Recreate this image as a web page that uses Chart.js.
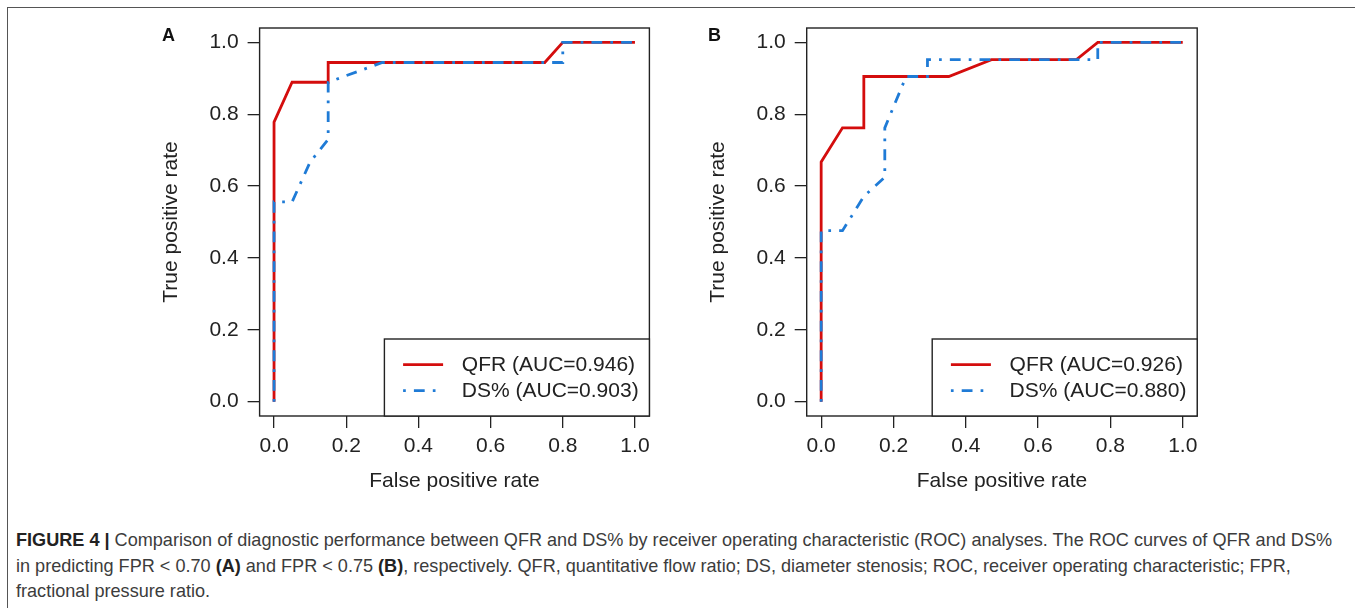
<!DOCTYPE html>
<html>
<head>
<meta charset="utf-8">
<script src="https://cdn.jsdelivr.net/npm/chart.js@4.4.1/dist/chart.umd.min.js"></script>
<style>
html,body{margin:0;padding:0;background:#fff;width:1355px;height:608px;overflow:hidden;font-family:"Liberation Sans",Arial,sans-serif;}
#frame{position:absolute;left:7px;top:7px;width:1400px;height:700px;border-left:1.5px solid #555;border-top:1.5px solid #555;}
#wa{position:absolute;left:0;top:0;}
#wb{position:absolute;left:680px;top:0;}
.lab{position:absolute;font-weight:bold;font-size:18px;color:#111;line-height:20px;}
#cap{position:absolute;left:16px;top:528px;font-size:18.1px;line-height:25.5px;color:#3c3c3c;white-space:nowrap;}
#cap b{color:#222;}
</style>
</head>
<body>
<div id="frame"></div>
<canvas id="wa" width="680" height="500"></canvas>
<canvas id="wb" width="675" height="500"></canvas>
<div class="lab" style="left:162px;top:25px;">A</div>
<div class="lab" style="left:708px;top:25px;">B</div>
<div id="cap"><b>FIGURE 4 |</b> Comparison of diagnostic performance between QFR and DS% by receiver operating characteristic (ROC) analyses. The ROC curves of QFR and DS%<br>in predicting FPR &lt; 0.70 <b>(A)</b> and FPR &lt; 0.75 <b>(B)</b>, respectively. QFR, quantitative flow ratio; DS, diameter stenosis; ROC, receiver operating characteristic; FPR,<br>fractional pressure ratio.</div>
<script>
// ---- data ----
const tickValues = [0, 0.2, 0.4, 0.6, 0.8, 1.0];
const seriesNames = ['QFR', 'DS%'];
const aucA = ['0.946', '0.903'];
const aucB = ['0.926', '0.880'];

// Panel A (FPR < 0.70)
const fprA_QFR = [0, 0, 0.05, 0.15, 0.15, 0.75, 0.80, 1.0];
const tprA_QFR = [0, 0.778, 0.889, 0.889, 0.944, 0.944, 1.0, 1.0];
const fprA_DS  = [0, 0, 0.05, 0.10, 0.15, 0.15, 0.30, 0.80, 0.80, 1.0];
const tprA_DS  = [0, 0.556, 0.556, 0.667, 0.73, 0.889, 0.944, 0.944, 1.0, 1.0];

// Panel B (FPR < 0.75)
const fprB_QFR = [0, 0, 0.059, 0.118, 0.118, 0.353, 0.471, 0.706, 0.765, 1.0];
const tprB_QFR = [0, 0.667, 0.762, 0.762, 0.905, 0.905, 0.952, 0.952, 1.0, 1.0];
const fprB_DS  = [0, 0, 0.059, 0.118, 0.176, 0.176, 0.235, 0.294, 0.294, 0.765, 0.765, 1.0];
const tprB_DS  = [0, 0.476, 0.476, 0.571, 0.625, 0.762, 0.905, 0.905, 0.952, 0.952, 1.0, 1.0];

// ---- styling ----
const RED = '#d40d0d';
const BLUE = '#1f7bd6';
const INK = '#222';
const FONT = '"Liberation Sans", Arial, Helvetica, sans-serif';
const DOTDASH = [2.7, 8.1, 10.8, 8.1];

const pts = (xs, ys) => xs.map((x, i) => ({x: x, y: ys[i]}));

const boxPlugin = {
  id: 'boxLegend',
  afterDraw(chart) {
    const {ctx, chartArea: {left, top, right, bottom}} = chart;
    ctx.save();
    ctx.strokeStyle = INK; ctx.lineWidth = 1.4; ctx.setLineDash([]);
    ctx.strokeRect(left, top, right - left, bottom - top);
    const lw = 265, lh = 77;
    const lx = right - lw, ly = bottom - lh;
    ctx.fillStyle = '#fff';
    ctx.fillRect(lx, ly, lw, lh);
    ctx.strokeRect(lx, ly, lw, lh);
    chart.data.datasets.forEach((ds, i) => {
      const y = ly + 25.7 + i * 26;
      ctx.beginPath();
      ctx.setLineDash(ds.borderDash || []);
      ctx.lineCap = 'butt';
      ctx.strokeStyle = ds.borderColor; ctx.lineWidth = ds.borderWidth;
      ctx.moveTo(lx + 18.7, y); ctx.lineTo(lx + 58.7, y); ctx.stroke();
      ctx.setLineDash([]);
      ctx.fillStyle = INK;
      ctx.font = '21px ' + FONT;
      ctx.textBaseline = 'middle'; ctx.textAlign = 'left';
      ctx.fillText(ds.label, lx + 77.4, y + 1);
    });
    ctx.restore();
  }
};

function makeChart(id, qfr, ds, auc, geo) {
  return new Chart(document.getElementById(id), {
    type: 'line',
    data: {
      datasets: [
        {label: seriesNames[0] + ' (AUC=' + auc[0] + ')', data: qfr, borderColor: RED, borderWidth: 2.8,
         pointRadius: 0, tension: 0, fill: false, order: 1},
        {label: seriesNames[1] + ' (AUC=' + auc[1] + ')', data: ds, borderColor: BLUE, borderWidth: 2.8,
         borderDash: DOTDASH, borderCapStyle: 'butt', pointRadius: 0, tension: 0, fill: false, order: 0}
      ]
    },
    options: {
      responsive: false, animation: false, devicePixelRatio: 1,
      layout: {padding: {top: 28, right: geo.right, left: 0, bottom: 0}},
      plugins: {legend: {display: false}, tooltip: {enabled: false}},
      scales: {
        x: {
          type: 'linear', min: -0.04, max: 1.04,
          afterBuildTicks: s => { s.ticks = tickValues.map(v => ({value: v})); },
          afterFit: s => { s.height = 84; },
          grid: {drawOnChartArea: false, drawTicks: true, tickLength: 12, color: INK, lineWidth: 1.3},
          border: {display: false},
          ticks: {autoSkip: false, maxRotation: 0, color: INK, padding: 6,
                  font: {family: FONT, size: 21}, callback: v => v.toFixed(1)},
          title: {display: true, text: 'False positive rate', color: INK,
                  font: {family: FONT, size: 21}, padding: {top: 0, bottom: 5.7}}
        },
        y: {
          type: 'linear', min: -0.04, max: 1.04,
          afterBuildTicks: s => { s.ticks = tickValues.map(v => ({value: v})); },
          afterFit: s => { s.width = geo.yw; },
          grid: {drawOnChartArea: false, drawTicks: true, tickLength: 12, color: INK, lineWidth: 1.3},
          border: {display: false},
          ticks: {autoSkip: false, color: INK, padding: 9,
                  font: {family: FONT, size: 21}, callback: v => v.toFixed(1)},
          title: {display: true, text: 'True positive rate', color: INK,
                  font: {family: FONT, size: 21}, padding: {top: geo.tp, bottom: 0}}
        }
      }
    },
    plugins: [boxPlugin]
  });
}

makeChart('wa', pts(fprA_QFR, tprA_QFR), pts(fprA_DS, tprA_DS), aucA, {right: 30.6, yw: 259.6, tp: 158.4});
makeChart('wb', pts(fprB_QFR, tprB_QFR), pts(fprB_DS, tprB_DS), aucB, {right: 157.8, yw: 126.7, tp: 25.4});
</script>
</body>
</html>
